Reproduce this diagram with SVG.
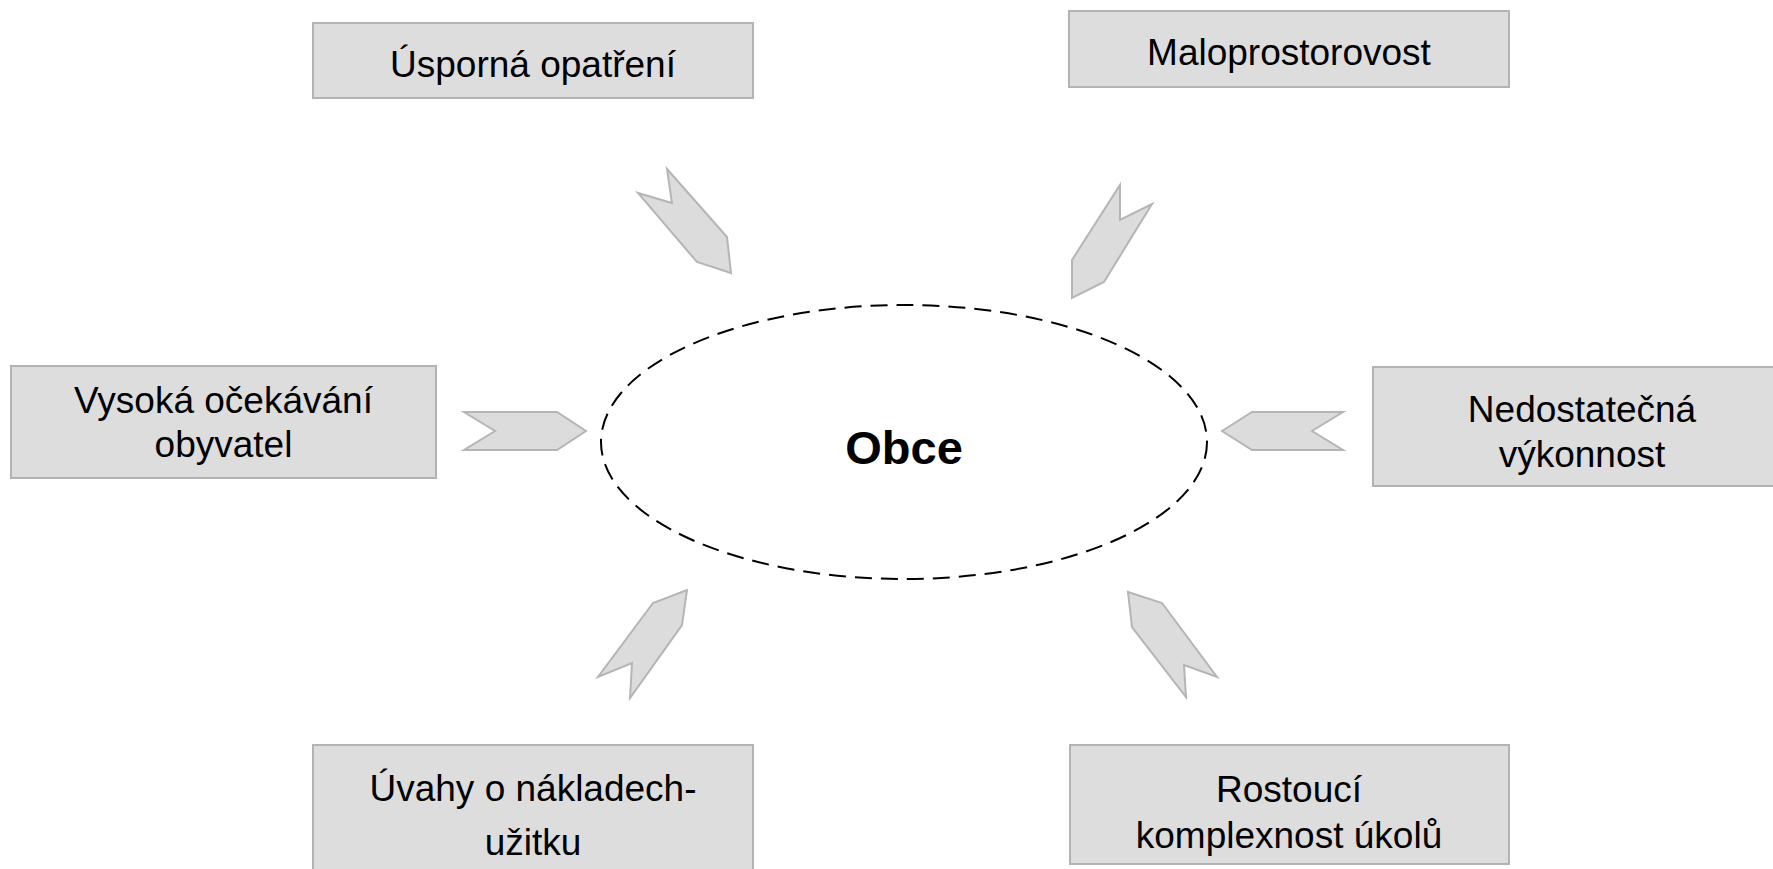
<svg xmlns="http://www.w3.org/2000/svg" width="1773" height="869" viewBox="0 0 1773 869">
<style>
.box{fill:#dddddd;stroke:#b3b3b3;stroke-width:2}
.t{font-family:"Liberation Sans",Arial,sans-serif;font-size:37px;fill:#000;text-anchor:middle}
.arr{fill:#dcdcdc;stroke:#b5b5b5;stroke-width:2;stroke-linejoin:miter}
</style>
<rect width="1773" height="869" fill="#ffffff"/>
<g id="center">
<ellipse cx="904" cy="442" rx="303" ry="137" fill="none" stroke="#000" stroke-width="2" stroke-dasharray="17 9"/>
<text x="904" y="464" class="t" style="font-weight:bold;font-size:47px">Obce</text>
</g>
<g id="n1"><rect class="box" x="313" y="23" width="440" height="75"/><text class="t" x="533" y="77">Úsporná opatření</text></g>
<g id="n2"><rect class="box" x="1069" y="11" width="440" height="76"/><text class="t" x="1289" y="65">Maloprostorovost</text></g>
<g id="n3"><rect class="box" x="11" y="366" width="425" height="112"/><text class="t" x="223.5" y="413">Vysoká očekávání</text><text class="t" x="223.5" y="457">obyvatel</text></g>
<g id="n4"><rect class="box" x="1373" y="367" width="440" height="119"/><text class="t" x="1582" y="422">Nedostatečná</text><text class="t" x="1582" y="467">výkonnost</text></g>
<g id="n5"><rect class="box" x="313" y="745" width="440" height="140"/><text class="t" x="533" y="801">Úvahy o nákladech-</text><text class="t" x="533" y="855">užitku</text></g>
<g id="n6"><rect class="box" x="1070" y="745" width="439" height="119"/><text class="t" x="1289" y="802">Rostoucí</text><text class="t" x="1289" y="848">komplexnost úkolů</text></g>
<g id="connectors">
<polygon class="arr" points="667,169 727,237 731,273 697,262 638,193 672,203"/>
<polygon class="arr" points="1120,185 1120,220 1152,204 1104,282 1072,298 1072,260"/>
<polygon class="arr" points="464,412 557,412 586,431 557,450 464,450 495,431"/>
<polygon class="arr" points="1222,431 1252,412 1343,412 1312,431 1343,450 1252,450"/>
<polygon class="arr" points="687,590 682,625 630,698 632,663 598,677 653,603"/>
<polygon class="arr" points="1128,592 1162,603 1217,677 1184,665 1186,697 1132,627"/>
</g>
</svg>
